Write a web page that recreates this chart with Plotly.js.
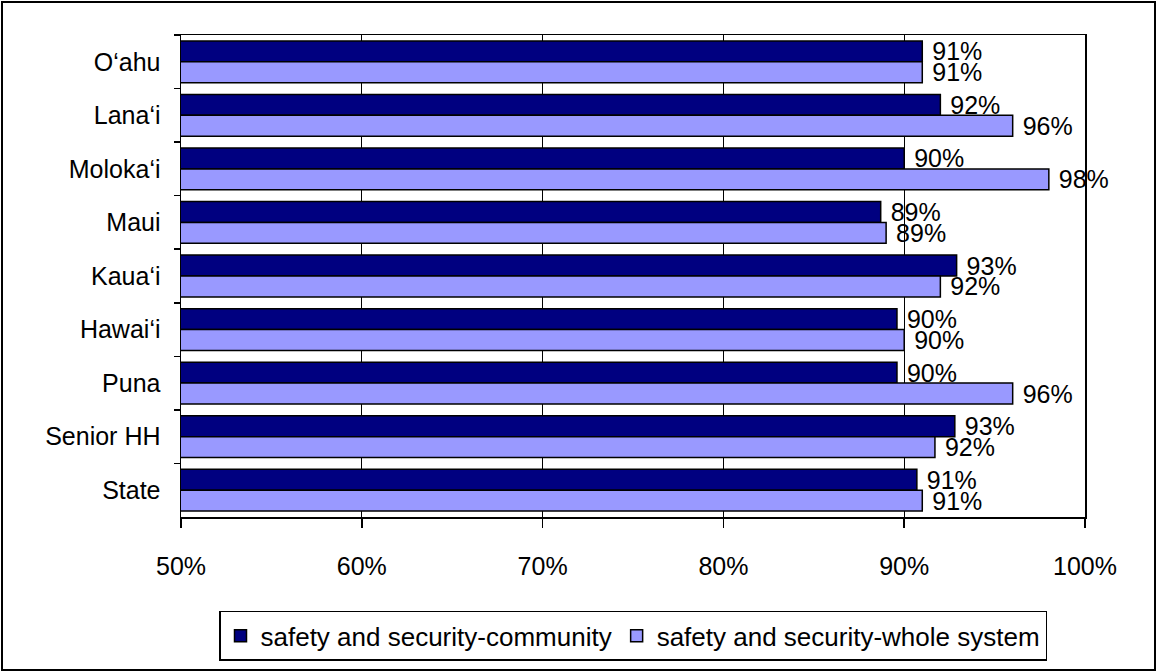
<!DOCTYPE html>
<html>
<head>
<meta charset="utf-8">
<script src="https://cdn.plot.ly/plotly-3.0.1.min.js"></script>
<style>
  html, body { margin: 0; padding: 0; background: #fff; }
  #wrap { position: relative; width: 1157px; height: 672px; }
  #chart { width: 1157px; height: 672px; }
  #frame { position: absolute; left: 1px; top: 1px; width: 1151px; height: 666px;
           border: 2px solid #000; pointer-events: none; }
</style>
</head>
<body>
<div id="wrap">
  <div id="chart"></div>
  <div id="frame"></div>
</div>
<script>
// Categories, top to bottom
const categories = ["O\u2018ahu", "Lana\u2018i", "Moloka\u2018i", "Maui", "Kaua\u2018i", "Hawai\u2018i", "Puna", "Senior HH", "State"];
// Series values (percent)
const communityValues   = [91.0, 92.0, 90.0, 88.7, 92.9, 89.6, 89.6, 92.8, 90.7];
const wholeSystemValues = [91.0, 96.0, 98.0, 89.0, 92.0, 90.0, 96.0, 91.7, 91.0];
const seriesNames = ["safety and security-community", "safety and security-whole system"];
const tickValues = [50, 60, 70, 80, 90, 100];
const tickLabels = ["50%", "60%", "70%", "80%", "90%", "100%"];

const FONT = "Liberation Sans, Arial, sans-serif";

function barTrace(name, values, color) {
  return {
    type: "bar",
    orientation: "h",
    name: name,
    y: categories,
    x: values,
    base: 0,
    marker: { color: color, line: { color: "#000", width: 1.5 } },
    texttemplate: "\u00a0%{x:.0f}%",
    textposition: "outside",
    constraintext: "none",
    cliponaxis: false,
    textfont: { family: FONT, size: 25, color: "#000" },
    hoverinfo: "x+y"
  };
}

const data = [
  barTrace(seriesNames[0], communityValues, "#000080"),
  barTrace(seriesNames[1], wholeSystemValues, "#9999FF")
];

const layout = {
  width: 1157,
  height: 672,
  margin: { l: 181, r: 72, t: 35, b: 154 },
  paper_bgcolor: "#fff",
  plot_bgcolor: "#fff",
  font: { family: FONT, size: 25, color: "#000" },
  barmode: "group",
  bargap: 0.22,
  bargroupgap: 0,
  showlegend: true,
  xaxis: {
    range: [50, 100],
    tickvals: tickValues,
    ticktext: tickLabels,
    showgrid: true,
    gridcolor: "#000",
    gridwidth: 1,
    showline: true,
    linecolor: "#000",
    linewidth: 1.5,
    mirror: true,
    ticks: "outside",
    ticklen: 9,
    tickwidth: 1.5,
    tickcolor: "#000",
    ticklabelstandoff: 17,
    zeroline: false,
    tickfont: { family: FONT, size: 25, color: "#000" }
  },
  yaxis: {
    type: "category",
    autorange: "reversed",
    showline: true,
    linecolor: "#000",
    linewidth: 1.5,
    mirror: true,
    ticks: "outside",
    tickson: "boundaries",
    ticklen: 6,
    tickwidth: 1.5,
    tickcolor: "#000",
    showgrid: false,
    ticklabelstandoff: 14,
    tickfont: { family: FONT, size: 25, color: "#000" }
  },
  legend: {
    orientation: "h",
    x: 0.5,
    xanchor: "center",
    y: -0.192,
    yanchor: "top",
    bordercolor: "#000",
    borderwidth: 1.5,
    bgcolor: "#fff",
    font: { family: FONT, size: 26, color: "#000" },
    traceorder: "normal"
  }
};

Plotly.newPlot("chart", data, layout, { displayModeBar: false, staticPlot: true });
</script>
</body>
</html>
